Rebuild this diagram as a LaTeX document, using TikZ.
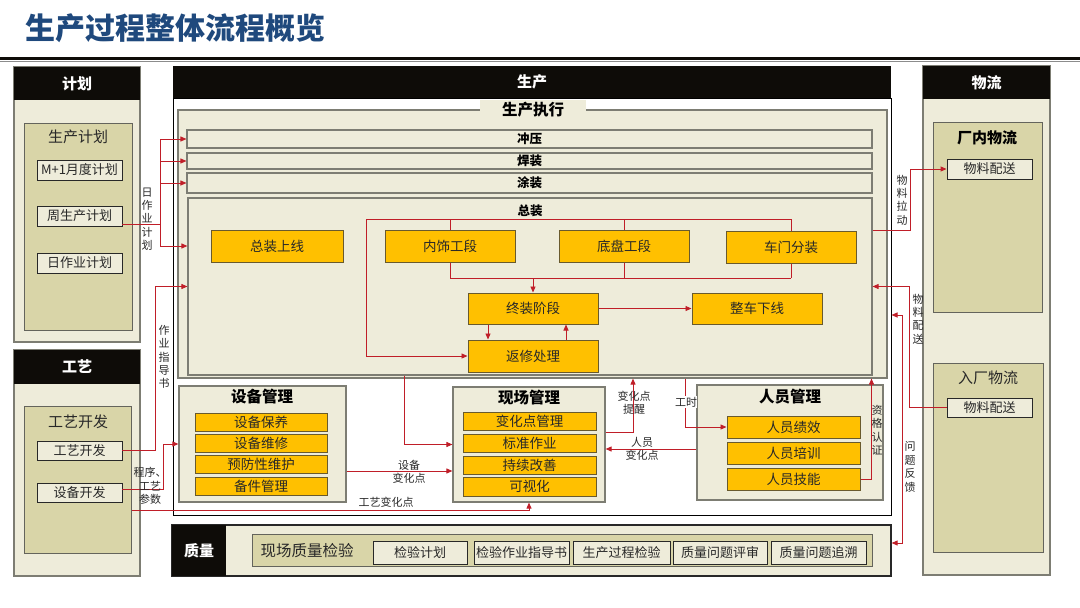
\documentclass[tikz,border=0pt]{standalone}
\usepackage{fontspec}
\setmainfont{Noto Sans CJK SC}
\usetikzlibrary{arrows.meta,positioning}
\definecolor{hdrblack}{RGB}{14,12,8}
\definecolor{paper}{RGB}{238,236,218}
\definecolor{khaki}{RGB}{217,213,168}
\definecolor{gold}{RGB}{255,192,0}
\definecolor{goldedge}{RGB}{105,90,45}
\definecolor{flowred}{RGB}{192,30,40}
\definecolor{edgegray}{RGB}{125,125,115}
\definecolor{titleblue}{RGB}{31,73,125}
\definecolor{inkgray}{RGB}{40,40,40}

\tikzset{
  sz/.style 2 args={minimum width=#1pt, minimum height=#2pt},
  hdr/.style={fill=hdrblack, text=white, font=\fontsize{15}{16}\selectfont\bfseries, inner sep=0pt},
  panel/.style={draw=edgegray, fill=paper, line width=1.2pt, inner sep=0pt},
  group/.style={draw=edgegray!80!black, fill=khaki, line width=1pt, inner sep=0pt},
  item/.style={draw=inkgray, fill=paper, line width=0.9pt, inner sep=1pt, font=\fontsize{13}{14}\selectfont, text=inkgray},
  bar/.style={draw=edgegray, fill=paper, line width=1.1pt, inner sep=0pt, font=\fontsize{12.5}{13}\selectfont\bfseries},
  stage/.style={draw=goldedge, fill=gold, line width=1pt, inner sep=0pt, font=\fontsize{13.5}{14}\selectfont, text=inkgray},
  heading/.style={font=\fontsize{15.5}{17}\selectfont\bfseries, text=black, inner sep=0pt},
  subhead/.style={font=\fontsize{15}{17}\selectfont, text=inkgray, inner sep=0pt},
  lbl/.style={font=\fontsize{11}{13.4}\selectfont, text=inkgray, align=center, inner sep=0pt},
  wire/.style={draw=flowred, line width=0.9pt},
  flow/.style={wire, -{Triangle[length=6pt,width=5pt]}},
}

\begin{document}
\begin{tikzpicture}[x=1pt, y=-1pt]
\useasboundingbox[fill=white] (0,0) rectangle (1080,608);

% title
\node[anchor=west, font=\fontsize{30}{32}\selectfont\bfseries, text=titleblue, inner sep=0pt] (title) at (25,28) {生产过程整体流程概览};
\draw[line width=2.6pt, hdrblack] (0,58.5) -- (1080,58.5);
\draw[line width=0.8pt, black!45] (0,61.5) -- (1080,61.5);

% plan column
\node[panel, sz={126}{275}] (plan) at (77,204.5) {};
\node[hdr, sz={126}{33}] (planhd) at (77,83.5) {计划};
\node[group, sz={108}{207}] (pgrp) at (78,226.5) {};
\node[subhead] (pgrpt) at (78,137) {生产计划};
\node[item, sz={85}{20}] (month) at (79.5,170) {M+1月度计划};
\node[item, sz={85}{20}] (week) at (79.5,216) {周生产计划};
\node[item, sz={85}{20}] (day) at (79.5,263) {日作业计划};

% craft column
\node[panel, sz={126}{226}] (craft) at (77,463) {};
\node[hdr, sz={126}{34}] (crafthd) at (77,367) {工艺};
\node[group, sz={107}{147}] (cgrp) at (77.5,479.5) {};
\node[subhead] (cgrpt) at (78,422) {工艺开发};
\node[item, sz={85}{19}] (pdev) at (79.5,450.5) {工艺开发};
\node[item, sz={85}{19}] (edev) at (79.5,492.5) {设备开发};

% production
\node[draw=black, fill=white, line width=1pt, sz={718}{417}] (prod) at (532,306.5) {};
\node[hdr, sz={718}{32}] (prodhd) at (532,82) {生产};
\node[panel, sz={709}{268}] (exec) at (532.5,244) {};
\node[heading, fill=paper, inner xsep=22pt, inner ysep=2pt] (exect) at (533,110) {生产执行};
\node[bar, sz={685}{18}] (stamp) at (529.5,139) {冲压};
\node[bar, sz={685}{16}] (weld) at (529.5,161) {焊装};
\node[bar, sz={685}{20}] (paint) at (529.5,183) {涂装};
\node[panel, sz={684}{177}] (gen) at (530,286.5) {};
\node[font=\fontsize{12.5}{13}\selectfont\bfseries, inner sep=0pt] (gent) at (530,211) {总装};
\node[stage, sz={132}{32}] (online) at (277,246) {总装上线};
\node[stage, sz={130}{32}] (inner) at (450,246) {内饰工段};
\node[stage, sz={130}{32}] (chassis) at (624,246) {底盘工段};
\node[stage, sz={130}{32}] (door) at (791,247) {车门分装};
\node[stage, sz={130}{31}] (final) at (533,308.5) {终装阶段};
\node[stage, sz={130}{31}] (offline) at (757,308.5) {整车下线};
\node[stage, sz={130}{32}] (rework) at (533,356) {返修处理};

% assembly flow
\coordinate (top) at (366,219);
\coordinate (merge) at (533,278);
\draw[wire] (inner.north) |- (top);
\draw[wire] (door.north) |- (inner.north |- top);
\draw[wire] (chassis.north) -- (chassis.north |- top);
\draw[flow] (top) |- (rework.west);
\draw[wire] (inner.south) |- (door.south |- merge);
\draw[wire] (chassis.south) -- (chassis.south |- merge);
\draw[wire] (door.south) -- (door.south |- merge);
\draw[flow] (final.north |- merge) -- (final.north);
\draw[flow] (final.east) -- (offline.west);
\draw[flow] ([xshift=-45pt]final.south) -- ([xshift=-45pt]rework.north);
\draw[flow] ([xshift=33pt]rework.north) -- ([xshift=33pt]final.south);

% modules
\node[panel, sz={167}{116}] (eqm) at (262.5,444) {};
\node[heading] (eqmt) at (262,397) {设备管理};
\node[stage, sz={132}{18}] (care) at (261,422) {设备保养};
\node[stage, sz={132}{18}] (repair) at (261,443) {设备维修};
\node[stage, sz={132}{18}] (prev) at (261,464.5) {预防性维护};
\node[stage, sz={132}{18}] (spare) at (261,486) {备件管理};

\node[panel, sz={152}{115}] (site) at (529,444.5) {};
\node[heading] (sitet) at (529,398) {现场管理};
\node[stage, sz={133}{18}] (chgmgmt) at (529.5,421) {变化点管理};
\node[stage, sz={133}{18}] (std) at (529.5,443) {标准作业};
\node[stage, sz={133}{18}] (kaizen) at (529.5,465) {持续改善};
\node[stage, sz={133}{19}] (visual) at (529.5,486.5) {可视化};

\node[panel, sz={186}{115}] (staff) at (790,442.5) {};
\node[heading] (stafft) at (790,397) {人员管理};
\node[stage, sz={133}{22}] (perf) at (793.5,427) {人员绩效};
\node[stage, sz={133}{22}] (train) at (793.5,453) {人员培训};
\node[stage, sz={133}{22}] (skill) at (793.5,479.5) {人员技能};

% quality
\node[panel, draw=inkgray, sz={719}{51}] (qual) at (531.5,550.5) {};
\node[hdr, sz={54}{51}] (qualhd) at (199,550.5) {质量};
\node[group, sz={620}{32}] (qgrp) at (562,550) {};
\node[subhead, font=\fontsize{15.5}{17}\selectfont] (qgrpt) at (307,551) {现场质量检验};
\node[item, sz={94}{23}] (qplan) at (420,552.5) {检验计划};
\node[item, sz={95}{23}] (qguide) at (521.5,552.5) {检验作业指导书};
\node[item, sz={97}{23}] (qproc) at (621.5,552.5) {生产过程检验};
\node[item, sz={94}{23}] (qreview) at (720,552.5) {质量问题评审};
\node[item, sz={95}{23}] (qtrace) at (818.5,552.5) {质量问题追溯};

% logistics column
\node[panel, sz={127}{509}] (logi) at (986.5,320.5) {};
\node[hdr, sz={127}{33}] (logihd) at (986.5,82.5) {物流};
\node[group, sz={109}{190}] (igrp) at (987.5,217) {};
\node[heading, font=\fontsize{15}{17}\selectfont\bfseries] (igrpt) at (987,138) {厂内物流};
\node[item, sz={85}{20}] (ship1) at (989.5,169) {物料配送};
\node[group, sz={110}{189}] (ogrp) at (988,457.5) {};
\node[subhead] (ogrpt) at (988,378) {入厂物流};
\node[item, sz={85}{19}] (ship2) at (989.5,407.5) {物料配送};

% plan / craft to production
\coordinate (split) at (160,224);
\draw[wire] ([yshift=-8pt]week.east) -- (split);
\draw[flow] (split) |- (stamp.west);
\draw[flow] (split) |- (weld.west);
\draw[flow] (split) |- (paint.west);
\draw[flow] (split) |- (gen.west |- online.west);
\draw[flow] (pdev.east) -- ++(33,0) |- (gen.west);
\draw[flow] ([yshift=3pt]edev.east) -- ++(41,0) |- (eqm.west);
\draw[flow] ([yshift=-30.5pt]cgrp.east) -| (site.south);

% module links
\coordinate (eqout) at ([yshift=-27pt]eqm.east);
\coordinate (chgout) at ([yshift=12.5pt]site.east);
\coordinate (stfout) at ([yshift=-6.5pt]staff.west);
\draw[flow] ([xshift=-126pt]gen.south) |- (site.west);
\draw[flow] (eqout) -- (eqout -| site.west);
\draw[flow] (chgout) -| ([xshift=100.5pt]exec.south);
\draw[flow] ([xshift=152.5pt]exec.south) |- (perf.west);
\draw[flow] (stfout) -- (stfout -| site.east);
\draw[flow] (skill.east) -| ([xshift=339pt]exec.south);

% logistics links
\coordinate (pull) at ([yshift=56.5pt]gen.east);
\draw[flow] (pull) -- ++(38,0) |- (ship1.west);
\draw[flow] (ship2.west) -- ++(-37,0) |- (gen.east);
\draw[wire, {Triangle[length=6pt,width=5pt]}-{Triangle[length=6pt,width=5pt]}] ([yshift=-8.5pt]prod.east) -- ++(11,0) |- ([yshift=7.5pt]qual.east);

% labels
\node[lbl] (lbday) at (147,219) {日\\作\\业\\计\\划};
\node[lbl] (lbguide) at (164,357) {作\\业\\指\\导\\书};
\node[lbl] (lbparam) at (150,486) {程序、\\工艺\\参数};
\node[lbl] (lbproc) at (386,502) {工艺变化点};
\node[lbl] (lbeq) at (409,472) {设备\\变化点};
\node[lbl] (lbchg) at (634,403) {变化点\\提醒};
\node[lbl, fill=white, inner ysep=1pt] (lbhour) at (686,402) {工时};
\node[lbl] (lbstaff) at (642,449) {人员\\变化点};
\node[lbl] (lbqual) at (877,430) {资\\格\\认\\证};
\node[lbl] (lbpull) at (902,200) {物\\料\\拉\\动};
\node[lbl] (lbship) at (918,319) {物\\料\\配\\送};
\node[lbl] (lbfeed) at (910,467) {问\\题\\反\\馈};
\end{tikzpicture}
\end{document}
